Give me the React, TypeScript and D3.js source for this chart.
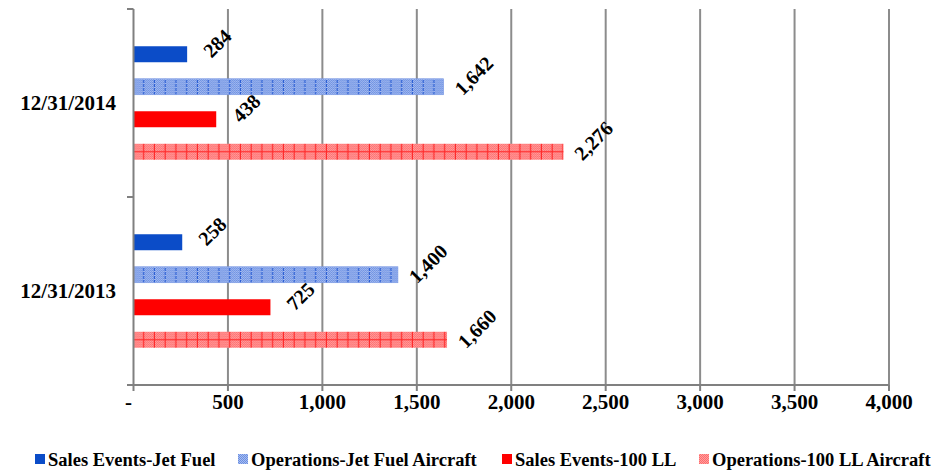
import React from "react";
import * as d3 from "d3";

const categories = ["12/31/2014", "12/31/2013"];
const seriesNames = [
  "Sales Events-Jet Fuel",
  "Operations-Jet Fuel Aircraft",
  "Sales Events-100 LL",
  "Operations-100 LL Aircraft",
];
const values2014 = [284, 1642, 438, 2276];
const values2013 = [258, 1400, 725, 1660];
const xTicks = [0, 500, 1000, 1500, 2000, 2500, 3000, 3500, 4000];

const W = 938;
const H = 473;
const FONT = "'Liberation Serif', 'Times New Roman', serif";

export default function App() {
  const x = d3.scaleLinear().domain([0, 4000]).range([133.5, 889]);
  const y = d3.scaleBand().domain(categories).range([9, 385]);
  const inner = d3
    .scaleBand()
    .domain(seriesNames)
    .range([0, y.bandwidth()])
    .paddingInner(0.508)
    .paddingOuter(1.146);
  const fmt = d3.format(",");
  const data: Record<string, number[]> = {
    "12/31/2014": values2014,
    "12/31/2013": values2013,
  };
  const fills = ["#0B4CC8", "url(#opsJet)", "#FF0000", "url(#ops100)"];
  const legendX = [35, 238, 502, 699];

  return (
    <svg
      width={W}
      height={H}
      style={{ position: "absolute", left: 0, top: 0, background: "#fff" }}
      fontFamily={FONT}
    >
      <defs>
        <pattern id="checkBlue" patternUnits="userSpaceOnUse" width={2} height={2}>
          <rect width={2} height={2} fill="#a8bdf0" />
          <rect width={1} height={1} fill="#6a8fe2" />
          <rect x={1} y={1} width={1} height={1} fill="#6a8fe2" />
        </pattern>
        <pattern id="opsJet" patternUnits="userSpaceOnUse" width={10.75} height={4} x={133.5}>
          <rect width={10.75} height={4} fill="url(#checkBlue)" />
          <line x1={10.2} x2={10.2} y1={0} y2={3} stroke="#2c5fd4" strokeWidth={1.2} />
        </pattern>
        <pattern id="checkRed" patternUnits="userSpaceOnUse" width={2} height={2}>
          <rect width={2} height={2} fill="#ffa0a0" />
          <rect width={1} height={1} fill="#ff6c6c" />
          <rect x={1} y={1} width={1} height={1} fill="#ff6c6c" />
        </pattern>
        <pattern id="ops100" patternUnits="userSpaceOnUse" width={10.75} height={8} x={133.5} y={0}>
          <rect width={10.75} height={8} fill="url(#checkRed)" />
          <line x1={10.2} x2={10.2} y1={0} y2={8} stroke="#ff2a2a" strokeWidth={1.2} />
        </pattern>
      </defs>

      {/* gridlines */}
      {xTicks.slice(1).map((t) => (
        <line key={"g" + t} x1={x(t)} x2={x(t)} y1={9} y2={385} stroke="#8c8c8c" strokeWidth={2} />
      ))}

      {/* bars */}
      {categories.map((c) =>
        seriesNames.map((s, i) => {
          const y0 = (y(c) as number) + (inner(s) as number);
          const bw = inner.bandwidth();
          const v = data[c][i];
          return (
            <g key={c + s}>
              <rect x={x(0)} y={y0} width={x(v) - x(0)} height={bw} fill={fills[i]} />
              {i === 3 && (
                <line x1={x(0)} x2={x(v)} y1={y0 + bw / 2} y2={y0 + bw / 2} stroke="#ff2a2a" strokeWidth={1.2} />
              )}
              {i === 1 && (
                <rect x={x(0)} y={y0} width={x(v) - x(0)} height={bw} fill="none" stroke="#7d9be4" strokeWidth={0.6} />
              )}
            </g>
          );
        })
      )}

      {/* data labels */}
      {categories.map((c) =>
        seriesNames.map((s, i) => {
          const y0 = (y(c) as number) + (inner(s) as number) + inner.bandwidth() / 2;
          const v = data[c][i];
          const cx = x(v) + 30;
          const cy = y0 - 11;
          return (
            <text
              key={"l" + c + s}
              transform={`translate(${cx},${cy}) rotate(-45)`}
              textAnchor="middle"
              dominantBaseline="central"
              fontSize={20}
              fontWeight="bold"
              fill="#000"
            >
              {fmt(v)}
            </text>
          );
        })
      )}

      {/* left axis */}
      <line x1={x(0)} x2={x(0)} y1={9} y2={385} stroke="#808080" strokeWidth={2} />
      {[9, (y(categories[1]) as number), 385].map((ty, i) => (
        <line key={"lt" + i} x1={127} x2={x(0)} y1={ty} y2={ty} stroke="#808080" strokeWidth={2} />
      ))}
      {/* bottom axis */}
      <line x1={x(0) - 6} x2={x(4000)} y1={385} y2={385} stroke="#808080" strokeWidth={2} />
      {xTicks.map((t) => (
        <line key={"bt" + t} x1={x(t)} x2={x(t)} y1={385} y2={391} stroke="#808080" strokeWidth={2} />
      ))}
      {xTicks.map((t) => (
        <text
          key={"bl" + t}
          x={x(t) - (t === 0 ? 5 : 0)}
          y={409}
          textAnchor="middle"
          fontSize={21}
          fontWeight="bold"
          fill="#000"
        >
          {t === 0 ? "-" : fmt(t)}
        </text>
      ))}

      {/* category labels */}
      {categories.map((c) => (
        <text
          key={"c" + c}
          x={116}
          y={(y(c) as number) + y.bandwidth() / 2 + 7}
          textAnchor="end"
          fontSize={21}
          fontWeight="bold"
          fill="#000"
        >
          {c}
        </text>
      ))}

      {/* legend */}
      {seriesNames.map((s, i) => (
        <g key={"lg" + s}>
          <rect x={legendX[i]} y={454} width={10} height={10} fill={i === 1 ? "url(#checkBlue)" : i === 3 ? "url(#checkRed)" : fills[i]} />
          <text x={legendX[i] + 13} y={466} fontSize={18.5} fontWeight="bold" fill="#000">
            {s}
          </text>
        </g>
      ))}
    </svg>
  );
}
